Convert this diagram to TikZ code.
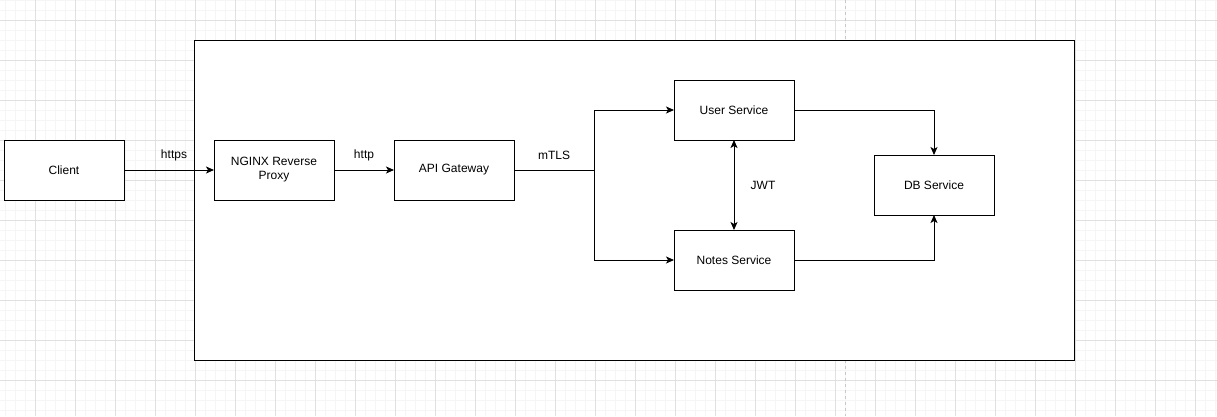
\documentclass[tikz,border=0pt]{standalone}
\usepackage{fontspec}
\setmainfont{Liberation Sans}
\usetikzlibrary{
  arrows.meta,
  backgrounds,
  positioning,
}
\definecolor{gridminor}{HTML}{F5F5F5}
\definecolor{gridmajor}{HTML}{E0E0E0}
\definecolor{pagebreak}{HTML}{C8C8C8}
\tikzset{
  >={Stealth[length=8pt, width=7pt, inset=2pt]},
  service/.style={draw, fill=white, line width=1pt, outer sep=0pt, minimum width=120pt, minimum height=60pt,
    align=center, font=\fontsize{12}{14}\selectfont},
  flow/.style={->, line width=1pt},
  proto/.style={font=\fontsize{12}{14}\selectfont},
}

\begin{document}
\begin{tikzpicture}[x=1pt, y=-1pt, node distance=90pt]
      \useasboundingbox (0,0) rectangle (1217,416);
      % grid of the canvas
      \foreach \gx in {5,15,...,1215} \draw [gridminor, line width=.8pt] (\gx,0) -- (\gx,416);
      \foreach \gy in {0,10,...,410} \draw [gridminor, line width=.8pt] (0,\gy) -- (1217,\gy);
      \foreach \gx in {35,75,...,1195} \draw [gridmajor, line width=.8pt] (\gx,0) -- (\gx,416);
      \foreach \gy in {20,60,...,380} \draw [gridmajor, line width=.8pt] (0,\gy) -- (1217,\gy);
      \draw [pagebreak, dashed, line width=.8pt] (845,0) -- (845,416);

      \node [draw, fill=white, line width=1pt, minimum width=880pt, minimum height=320pt] (cluster) at (634,200) {};

      \node [service] (client) at (64,170) {Client};
      \node [service, right=of client] (nginx) {NGINX Reverse\\Proxy};
      \node [service, right=60pt of nginx] (gateway) {API Gateway};
      \coordinate [right=80pt of gateway] (split);
      \node [service, right=160pt of gateway, yshift=60pt] (users) {User Service};
      \node [service, below=of users] (notes) {Notes Service};
      \node [service, right=80pt of users, yshift=-75pt] (db) {DB Service};

      \draw [flow] (client) -- node [proto, xshift=5pt, yshift=15pt] {https} (nginx);
      \draw [flow] (nginx) -- node [proto, yshift=15pt] {http} (gateway);
      \draw [line width=1pt] (gateway) -- node [proto, yshift=15pt] {mTLS} (split);
      \draw [flow] (split) |- (users);
      \draw [flow] (split) |- (notes);
      \draw [flow, <->] (users) -- node [proto, xshift=29pt] {JWT} (notes);
      \draw [flow] (users) -| (db);
      \draw [flow] (notes) -| (db);
    \end{tikzpicture}
\end{document}
